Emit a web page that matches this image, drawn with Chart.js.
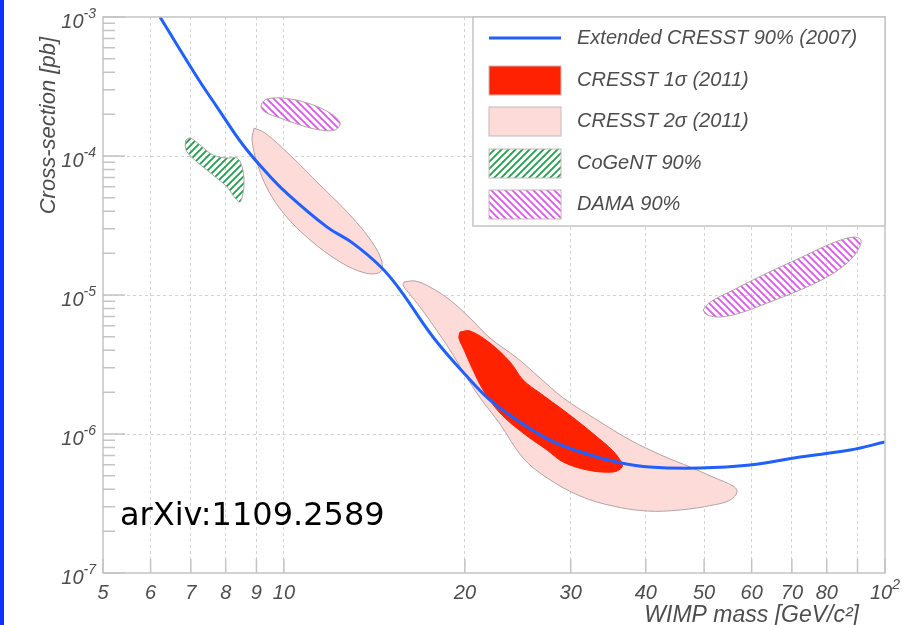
<!DOCTYPE html>
<html>
<head>
<meta charset="utf-8">
<script src="https://cdn.jsdelivr.net/npm/chart.js@4.4.1/dist/chart.umd.min.js"></script>
<style>
  html, body { margin: 0; padding: 0; background: #fff; }
</style>
</head>
<body>
<canvas id="c" width="918" height="625"></canvas>
<script>
// Extended CRESST 90% (2007) limit
const extMass = [6.22, 7.22, 7.74, 8.55, 9.37, 10.1, 11.8, 13.0, 14.5, 15.6, 17.7, 20.2, 22.0, 24.4, 27.7, 32.3, 35.8, 40.6, 49.2, 59.6, 72.2, 87.5, 100];
const extXsec = [1e-3, 3.52e-4, 2.25e-4, 1.2e-4, 7.54e-5, 5.42e-5, 3.08e-5, 2.37e-5, 1.59e-5, 1.09e-5, 4.99e-6, 2.57e-6, 1.76e-6, 1.26e-6, 9.05e-7, 7.06e-7, 6.29e-7, 5.79e-7, 5.69e-7, 5.98e-7, 6.83e-7, 7.67e-7, 8.76e-7];

// CRESST 1 sigma (2011)
const s1Mass = [19.63, 20.40, 22.02, 23.78, 24.99, 26.67, 29.14, 31.09, 33.19, 35.15, 36.24, 36.53, 35.29, 31.95, 29.14, 27.40, 24.99, 22.88, 21.45, 20.56, 19.94, 19.55];
const s1Xsec = [5.42e-6, 5.51e-6, 4.51e-6, 3.30e-6, 2.45e-6, 1.97e-6, 1.488e-6, 1.2e-6, 9.52e-7, 7.67e-7, 6.5e-7, 5.79e-7, 5.33e-7, 5.51e-7, 6.29e-7, 7.67e-7, 1.017e-6, 1.416e-6, 2.07e-6, 2.98e-6, 4.02e-6, 4.9e-6];

// CRESST 2 sigma (2011), two islands
const s2aMass = [8.92, 9.30, 10.23, 11.48, 12.88, 14.01, 14.56, 14.45, 13.65, 12.40, 11.05, 10.04, 9.41, 9.02, 8.85];
const s2aXsec = [1.59e-4, 1.464e-4, 1.017e-4, 6.19e-5, 3.76e-5, 2.41e-5, 1.73e-5, 1.46e-5, 1.44e-5, 1.73e-5, 2.49e-5, 3.76e-5, 5.69e-5, 8.91e-5, 1.303e-4];
const s2bMass = [15.84, 16.53, 17.50, 18.89, 20.40, 22.02, 24.43, 26.67, 29.14, 33.19, 37.66, 42.74, 47.39, 51.74, 55.88, 56.74, 55.25, 51.74, 45.61, 40.20, 35.29, 31.09, 27.40, 24.99, 22.88, 21.20, 20.02, 18.89, 17.84, 16.84, 16.08, 15.78];
const s2bXsec = [1.24e-5, 1.261e-5, 1.142e-5, 9.2e-6, 6.83e-6, 4.9e-6, 3.52e-6, 2.53e-6, 1.82e-6, 1.261e-6, 9.05e-7, 6.95e-7, 5.79e-7, 4.9e-7, 4.22e-7, 3.83e-7, 3.35e-7, 3.08e-7, 2.84e-7, 2.79e-7, 3.03e-7, 3.58e-7, 4.83e-7, 6.72e-7, 1.18e-6, 1.82e-6, 2.66e-6, 4.02e-6, 5.79e-6, 8.2e-6, 1.051e-5, 1.18e-5];

// CoGeNT 90%
const cogMass = [6.87, 6.98, 7.25, 7.62, 8.04, 8.36, 8.52, 8.58, 8.55, 8.45, 8.29, 8.04, 7.62, 7.17, 6.90, 6.85];
const cogXsec = [1.303e-4, 1.347e-4, 1.2e-4, 1.017e-4, 9.67e-5, 9.67e-5, 8.33e-5, 6.72e-5, 5.42e-5, 4.67e-5, 4.99e-5, 5.98e-5, 7.3e-5, 9.05e-5, 1.069e-4, 1.2e-4];

// DAMA 90%, low and high mass islands
const damaLoMass = [9.19, 9.37, 9.96, 10.93, 11.93, 12.40, 12.16, 11.48, 10.64, 9.85, 9.30, 9.16];
const damaLoXsec = [2.41e-4, 2.57e-4, 2.61e-4, 2.41e-4, 2.04e-4, 1.727e-4, 1.538e-4, 1.538e-4, 1.671e-4, 1.876e-4, 2.07e-4, 2.25e-4];
const damaHiMass = [49.8, 51.2, 55.9, 63.7, 72.2, 81.9, 88.5, 91.2, 90.2, 86.5, 80.1, 72.2, 63.7, 57.4, 53.2, 50.6];
const damaHiXsec = [7.8e-6, 8.91e-6, 1.086e-5, 1.44e-5, 1.846e-5, 2.37e-5, 2.61e-5, 2.49e-5, 2.11e-5, 1.7e-5, 1.347e-5, 1.086e-5, 8.76e-6, 7.42e-6, 6.95e-6, 7.18e-6];

// axes
const xTicks = [5, 6, 7, 8, 9, 10, 20, 30, 40, 50, 60, 70, 80, 90, 100];
const xTickLabels = ['5', '6', '7', '8', '9', '10', '20', '30', '40', '50', '60', '70', '80', '', '10^2'];
const yDecades = [1e-7, 1e-6, 1e-5, 1e-4, 1e-3];
const yDecadeLabels = ['10^-7', '10^-6', '10^-5', '10^-4', '10^-3'];
const yMinor = [2, 3, 4, 5, 6, 7, 8, 9];

const legendLabels = ['Extended CRESST 90% (2007)', 'CRESST 1\u03c3 (2011)', 'CRESST 2\u03c3 (2011)', 'CoGeNT 90%', 'DAMA 90%'];

const TXT = '#4d4d4d';
const FONT = '"Liberation Sans", Arial, sans-serif';

const pts = (xs, ys, close) => {
  const a = xs.map((x, i) => ({ x: x, y: ys[i] }));
  if (close) a.push(a[0]);
  return a;
};
const isDecade = (v) => Math.abs(Math.log10(v) - Math.round(Math.log10(v))) < 1e-9;

function hatch(color, up) {
  const c = document.createElement('canvas');
  c.width = c.height = 7;
  const g = c.getContext('2d');
  g.strokeStyle = color;
  g.lineWidth = 1.8;
  g.beginPath();
  if (up) {
    g.moveTo(-1, 8); g.lineTo(8, -1);
    g.moveTo(-4, 4); g.lineTo(4, -4);
    g.moveTo(3, 11); g.lineTo(11, 3);
  } else {
    g.moveTo(-1, -1); g.lineTo(8, 8);
    g.moveTo(-4, 3); g.lineTo(4, 11);
    g.moveTo(3, -4); g.lineTo(11, 4);
  }
  g.stroke();
  return g.createPattern(c, 'repeat');
}

const greenHatch = hatch('#1f9e4e', true);
const pinkHatch = hatch('#dd55ee', false);

const shapeBase = { fill: 'shape', borderWidth: 1, borderColor: '#b3a3a3', tension: 0.35, pointRadius: 0 };

const datasets = [
  { label: legendLabels[0], data: pts(extMass, extXsec), borderColor: '#2060ff', borderWidth: 3,
    fill: false, tension: 0.4, pointRadius: 0 },
  Object.assign({ label: legendLabels[1], data: pts(s1Mass, s1Xsec, true), backgroundColor: '#ff2200', borderColor: '#ff2200' }, { fill: 'shape', borderWidth: 1, tension: 0.35, pointRadius: 0 }),
  Object.assign({ label: legendLabels[2], data: pts(s2aMass, s2aXsec, true), backgroundColor: '#fddbd8' }, shapeBase),
  Object.assign({ label: legendLabels[2], data: pts(s2bMass, s2bXsec, true), backgroundColor: '#fddbd8' }, shapeBase),
  Object.assign({ label: legendLabels[3], data: pts(cogMass, cogXsec, true), backgroundColor: greenHatch }, shapeBase),
  Object.assign({ label: legendLabels[4], data: pts(damaLoMass, damaLoXsec, true), backgroundColor: pinkHatch }, shapeBase),
  Object.assign({ label: legendLabels[4], data: pts(damaHiMass, damaHiXsec, true), backgroundColor: pinkHatch }, shapeBase),
];

// draws "10^-4" style text with a raised exponent
function powText(g, str, x, y, align, size) {
  const parts = str.split('^');
  const big = 'italic ' + size + 'px ' + FONT;
  const small = 'italic ' + Math.round(size * 0.68) + 'px ' + FONT;
  g.font = big;
  const wb = g.measureText(parts[0]).width;
  let we = 0;
  if (parts[1]) { g.font = small; we = g.measureText(parts[1]).width; }
  const w = wb + we;
  const x0 = align === 'right' ? x - w : align === 'center' ? x - w / 2 : x;
  g.textAlign = 'left';
  g.textBaseline = 'alphabetic';
  g.font = big;
  g.fillText(parts[0], x0, y);
  if (parts[1]) { g.font = small; g.fillText(parts[1], x0 + wb, y - size * 0.48); }
}

const decor = {
  id: 'decor',
  beforeDraw(chart) {
    const g = chart.ctx;
    g.save();
    g.fillStyle = '#fff';
    g.fillRect(0, 0, chart.width, chart.height);
    g.fillStyle = '#0a33ff';
    g.fillRect(0, 0, 4, chart.height);
    g.restore();
  },
  afterDraw(chart) {
    const g = chart.ctx, a = chart.chartArea;
    const xs = chart.scales.x, ys = chart.scales.y;
    g.save();

    // frame and inward ticks
    g.strokeStyle = '#c4c4c4';
    g.lineWidth = 1.5;
    g.strokeRect(a.left, a.top, a.right - a.left, a.bottom - a.top);
    g.beginPath();
    xs.ticks.forEach(t => {
      const px = xs.getPixelForValue(t.value);
      g.moveTo(px, a.bottom); g.lineTo(px, a.bottom - 14);
    });
    ys.ticks.forEach(t => {
      const py = ys.getPixelForValue(t.value);
      g.moveTo(a.left, py); g.lineTo(a.left + (isDecade(t.value) ? 22 : 12), py);
    });
    g.stroke();

    // tick labels
    g.fillStyle = TXT;
    xTicks.forEach((v, i) => {
      if (xTickLabels[i]) powText(g, xTickLabels[i], xs.getPixelForValue(v), 599, 'center', 20);
    });
    yDecades.forEach((v, i) => {
      powText(g, yDecadeLabels[i], 96, ys.getPixelForValue(v) + 11, 'right', 20);
    });

    // axis titles
    g.font = 'italic 23px ' + FONT;
    g.textAlign = 'right';
    g.textBaseline = 'alphabetic';
    g.fillText('WIMP mass [GeV/c\u00b2]', 859, 622);
    g.save();
    g.translate(55, a.top + 20);
    g.rotate(-Math.PI / 2);
    g.font = 'italic 22px ' + FONT;
    g.textAlign = 'right';
    g.fillText('Cross-section [pb]', 0, 0);
    g.restore();

    // legend box
    const lx = 473, ly = a.top, lw = a.right - 473, lh = 209;
    g.fillStyle = '#fff';
    g.fillRect(lx, ly, lw, lh);
    g.strokeStyle = '#c4c4c4';
    g.lineWidth = 1.5;
    g.strokeRect(lx, ly, lw, lh);
    const rows = [38, 80, 121, 163, 204];
    const legendSets = [0, 1, 2, 4, 5];
    legendSets.forEach((di, r) => {
      const ds = chart.data.datasets[di];
      const cy = rows[r];
      if (r === 0) {
        g.strokeStyle = ds.borderColor;
        g.lineWidth = 3;
        g.beginPath(); g.moveTo(489, cy); g.lineTo(561, cy); g.stroke();
      } else {
        g.fillStyle = ds.backgroundColor;
        g.fillRect(489, cy - 14, 72, 29);
        g.strokeStyle = '#c8b8b8';
        g.lineWidth = 1;
        g.strokeRect(489, cy - 14, 72, 29);
      }
      g.fillStyle = TXT;
      g.font = 'italic 20px ' + FONT;
      g.textAlign = 'left';
      g.textBaseline = 'middle';
      g.fillText(ds.label, 577, cy);
    });

    // reference tag
    g.fillStyle = '#000';
    g.font = '32px "DejaVu Sans", sans-serif';
    g.textAlign = 'left';
    g.textBaseline = 'alphabetic';
    g.fillText('arXiv:1109.2589', 120, 525);

    g.restore();
  }
};

new Chart(document.getElementById('c').getContext('2d'), {
  type: 'line',
  data: { datasets: datasets },
  options: {
    responsive: false,
    animation: false,
    layout: { padding: { top: 17, right: 33, left: 0, bottom: 0 } },
    plugins: { legend: { display: false }, tooltip: { enabled: false } },
    elements: { point: { radius: 0 } },
    scales: {
      x: {
        type: 'logarithmic',
        min: 5,
        max: 100,
        afterBuildTicks: (s) => { s.ticks = xTicks.map(v => ({ value: v })); },
        afterFit: (s) => { s.height = 52; },
        ticks: { display: false },
        grid: {
          drawTicks: false,
          lineWidth: 1,
          color: (c) => (c.tick && c.tick.value > 5 && c.tick.value < 100) ? '#d2d2d2' : 'rgba(0,0,0,0)'
        },
        border: { display: false, dash: [3, 3] }
      },
      y: {
        type: 'logarithmic',
        min: 1e-7,
        max: 1e-3,
        afterBuildTicks: (s) => {
          const t = [];
          yDecades.forEach((d, i) => {
            t.push({ value: d });
            if (i < yDecades.length - 1) yMinor.forEach(m => t.push({ value: m * d }));
          });
          s.ticks = t;
        },
        afterFit: (s) => { s.width = 103; },
        ticks: { display: false },
        grid: {
          drawTicks: false,
          lineWidth: 1,
          color: (c) => (c.tick && isDecade(c.tick.value) && c.tick.value > 1e-7 && c.tick.value < 1e-3) ? '#d2d2d2' : 'rgba(0,0,0,0)'
        },
        border: { display: false, dash: [3, 3] }
      }
    }
  },
  plugins: [decor]
});
</script>
</body>
</html>
